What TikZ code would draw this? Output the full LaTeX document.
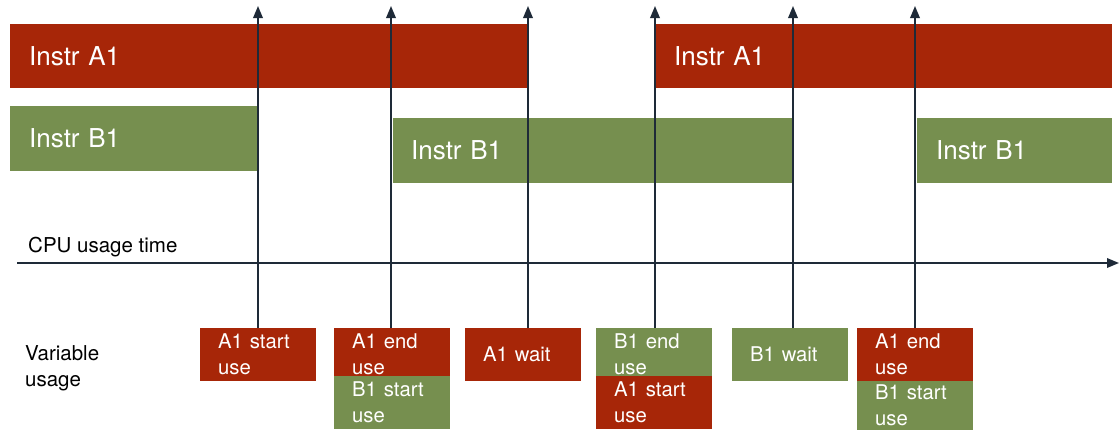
\documentclass[tikz,border=0pt]{standalone}
\usepackage{fontspec}
\setmainfont{TeX Gyre Heros}
\usetikzlibrary{arrows.meta}
\definecolor{instrred}{RGB}{167,38,8}
\definecolor{instrgreen}{RGB}{118,143,79}
\definecolor{linedark}{RGB}{30,42,56}
\begin{document}
\begin{tikzpicture}[x=1pt,y=-1pt,
  bar/.style={rectangle, inner xsep=19pt, inner ysep=0pt, text=white, anchor=north west,
    minimum height=64pt, align=left, font=\fontsize{26}{30}\selectfont},
  redbar/.style={bar, fill=instrred},
  greenbar/.style={bar, fill=instrgreen},
  usebox/.style={rectangle, inner xsep=18pt, inner ysep=0pt, text=white, anchor=north west,
    text width=80pt, align=left, font=\fontsize{20.3}{26}\selectfont},
  redbox/.style={usebox, fill=instrred},
  greenbox/.style={usebox, fill=instrgreen},
  plain/.style={inner sep=0pt, anchor=base west, font=\fontsize{20.5}{26}\selectfont, text=black},
  timeline/.style={draw=linedark, line width=1.8pt, -{Triangle[width=9.5pt,length=12pt]}}
]
\useasboundingbox (0,0) rectangle (1120,431);

% instruction bars
\node[redbar, minimum width=518pt, text width=480pt] (ra) at (10,24) {Instr A1};
\node[redbar, minimum width=457pt, text width=419pt] (rb) at (655,24) {Instr A1};
\node[greenbar, minimum width=248pt, text width=210pt, minimum height=65pt] (ga) at (10,106) {Instr B1};
\node[greenbar, minimum width=400pt, minimum height=65pt, inner xsep=18pt, text width=364pt] (gb) at (393,118) {Instr B1};
\node[greenbar, minimum width=195pt, text width=157pt, minimum height=65pt] (gc) at (917,118) {Instr B1};

% axis labels
\node[plain] (cpu) at (28,252) {CPU usage time};
\node[plain, anchor=north west, align=left] (var) at (25,345) {Variable\\usage};

% time axis
\coordinate (axs) at (17,263);
\coordinate (axe) at (1119,263);
\draw[timeline] (axs) -- (axe);

% variable usage boxes (lower boxes are drawn over the bottom of the upper ones)
\node[redbox, minimum height=53pt] (u1) at (200,328) {A1 start\\use};
\node[redbox, minimum height=53pt] (u2) at (334,328) {A1 end\\use};
\node[greenbox, minimum height=53pt] (u2b) at (334,376) {B1 start\\use};
\node[redbox, minimum height=53pt] (u3) at (465,328) {A1 wait};
\node[greenbox, minimum height=53pt] (u4) at (596,328) {B1 end\\use};
\node[redbox, minimum height=53pt] (u4b) at (596,376) {A1 start\\use};
\node[greenbox, minimum height=53pt] (u5) at (732,328) {B1 wait};
\node[redbox, minimum height=53pt] (u6) at (857,328) {A1 end\\use};
\node[greenbox, minimum height=49pt] (u6b) at (857,381) {B1 start\\use};

% event markers
\coordinate (t1) at (258,6);
\coordinate (t2) at (391,6);
\coordinate (t3) at (528,6);
\coordinate (t4) at (655,6);
\coordinate (t5) at (793,6);
\coordinate (t6) at (915,6);
\draw[timeline] (u1.north -| t1) -- (t1);
\draw[timeline] (u2.north -| t2) -- (t2);
\draw[timeline] (u3.north -| t3) -- (t3);
\draw[timeline] (u4.north -| t4) -- (t4);
\draw[timeline] (u5.north -| t5) -- (t5);
\draw[timeline] (u6.north -| t6) -- (t6);
\end{tikzpicture}
\end{document}
